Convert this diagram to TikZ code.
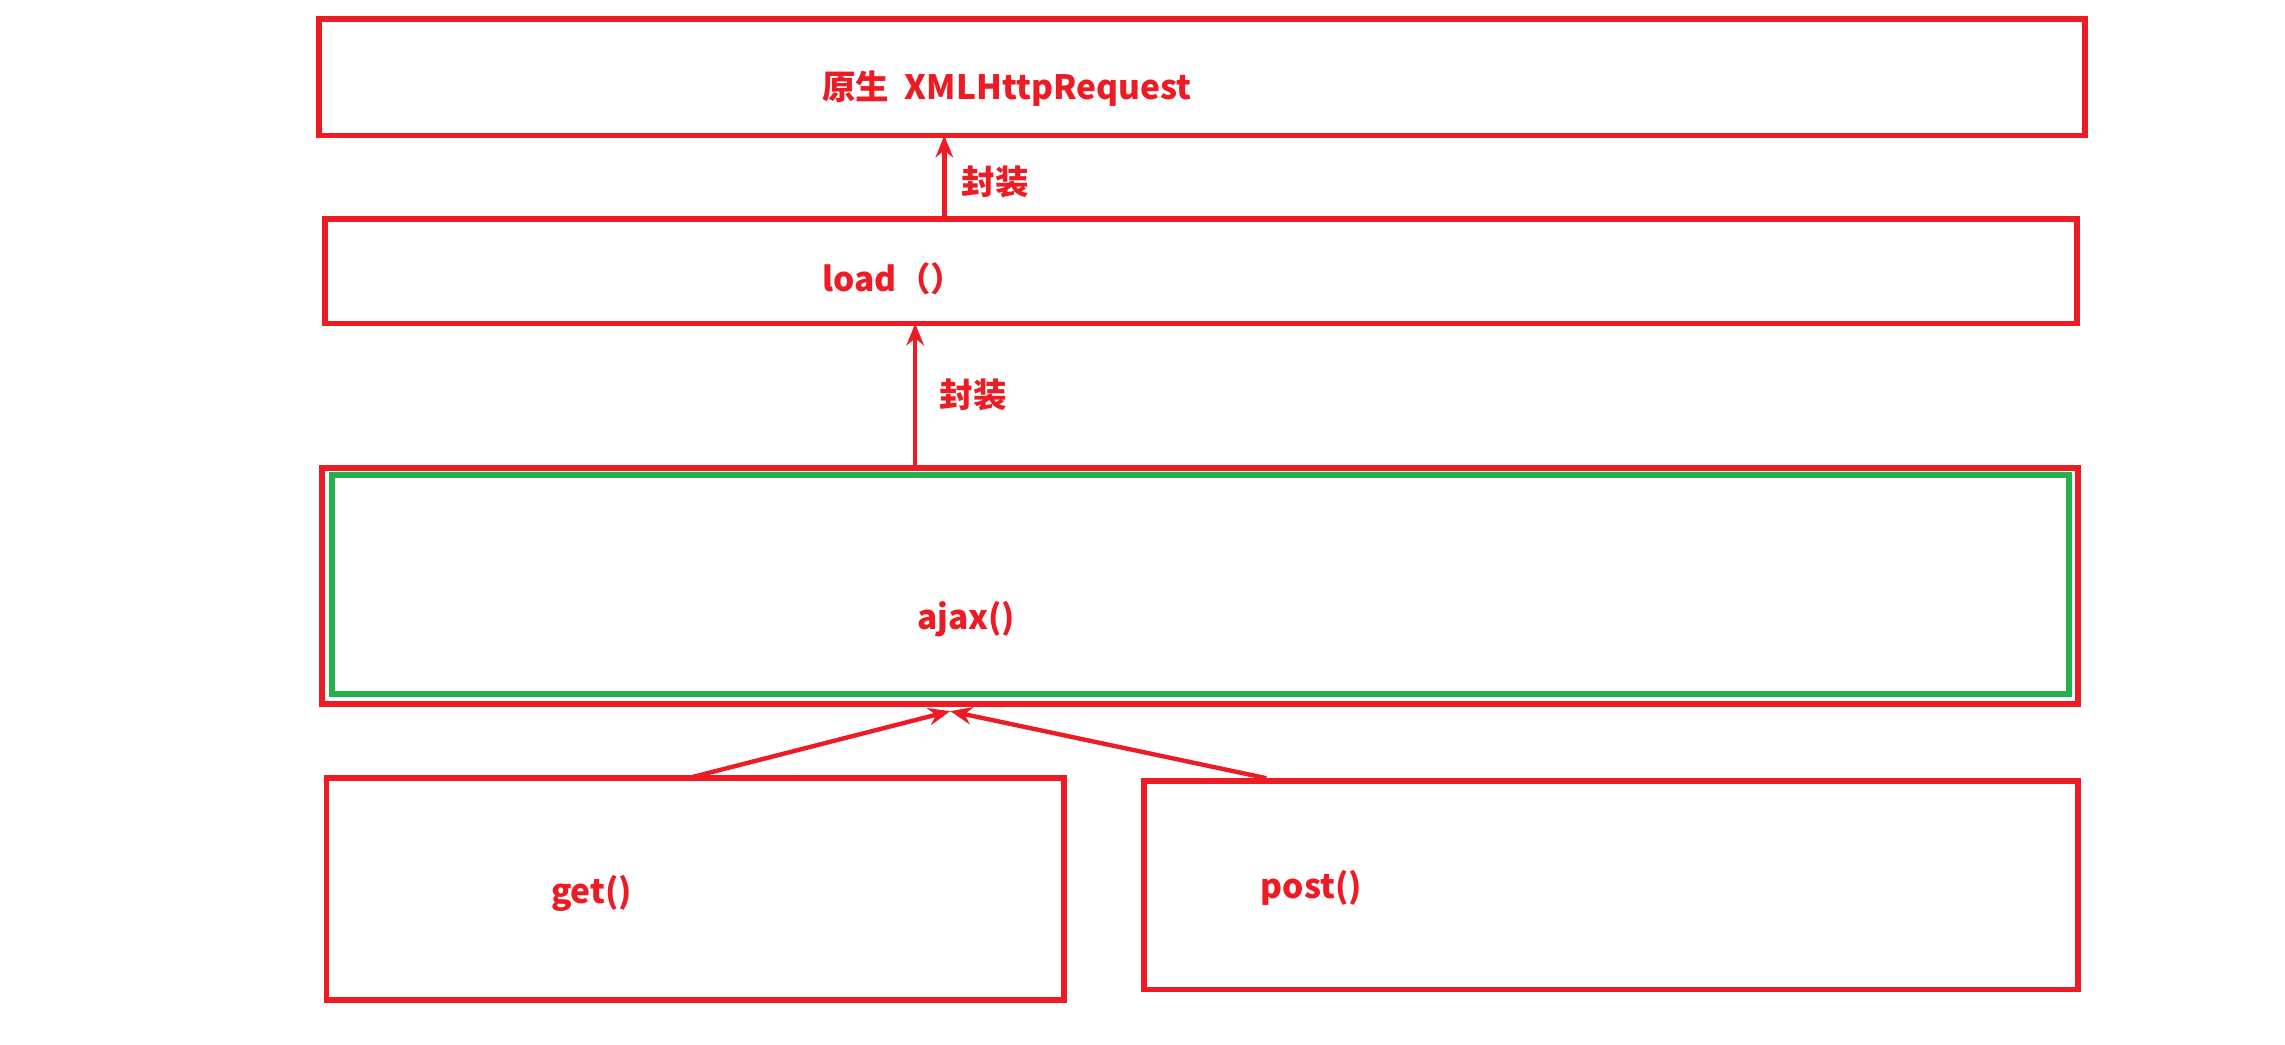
\documentclass[tikz,border=0pt]{standalone}
\usepackage{fontspec}
\setmainfont{Noto Sans CJK SC}
\usetikzlibrary{arrows.meta}
\definecolor{pred}{HTML}{ED1C24}
\definecolor{pgreen}{HTML}{22B14C}
\begin{document}
\begin{tikzpicture}[x=0.5pt,y=-0.5pt,
  box/.style={draw=pred,line width=2pt,inner sep=0pt,outer sep=0pt},
  gbox/.style={draw=pgreen,line width=2pt,inner sep=0pt,outer sep=0pt},
  lbl/.style={text=pred,font=\fontsize{11.5}{14}\selectfont\bfseries,inner sep=0pt},
  arr/.style={draw=pred,line width=1.5pt,-{Stealth[length=7.5pt,width=6pt]}}]
\useasboundingbox[fill=white] (0,0) rectangle (1568,717);
% boxes
\node[box,minimum width=606pt,minimum height=40pt] (b1) at (825,53) {};
\node[box,minimum width=601pt,minimum height=36pt] (b2) at (824,186) {};
\node[box,minimum width=602.5pt,minimum height=81pt] (b3) at (823.5,402) {};
\node[gbox,minimum width=596pt,minimum height=75pt] (g3) at (824,401) {};
\node[box,minimum width=253pt,minimum height=76pt] (bget) at (477,610) {};
\node[box,minimum width=320.5pt,minimum height=71.5pt] (bpost) at (1105.5,607.5) {};
% labels
\node[lbl] (t1) at (691,61) {原生\ \ XMLHttpRequest};
\node[lbl] (t2) at (613,191) {load（）};
\node[lbl] (t3) at (663,425) {ajax()};
\node[lbl] (t4) at (406,613) {get()};
\node[lbl] (t5) at (900,609) {post()};
\node[lbl] (e1) at (683,125) {封装};
\node[lbl] (e2) at (668,271) {封装};
% connectors
\coordinate (s1) at (648,150);
\coordinate (s2) at (628,321);
\coordinate (s3) at (472,534);
\coordinate (s4) at (869,534);
\coordinate (tip) at (652,488);
\draw[arr] (s1) -- (s1 |- b1.south);
\draw[arr] (s2) -- (s2 |- b2.south);
\draw[arr] (s3) -- (tip);
\draw[arr] (s4) -- (tip);
\end{tikzpicture}
\end{document}
